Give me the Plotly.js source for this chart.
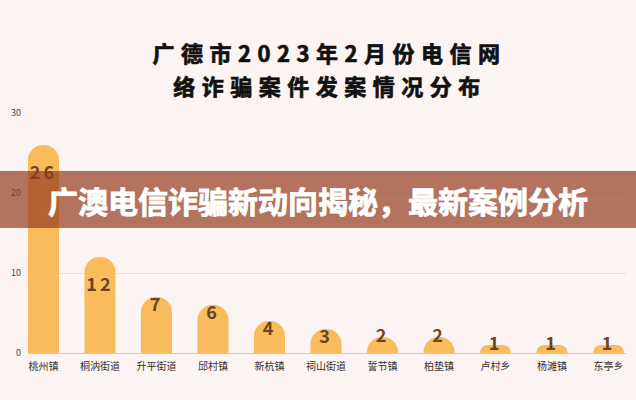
<!DOCTYPE html>
<html>
<head>
<meta charset="utf-8">
<script src="https://cdn.plot.ly/plotly-3.0.1.min.js"></script>
<style>
  html, body { margin: 0; padding: 0; background: #FCF4F2; }
  #chart { width: 636px; height: 400px; }
  g.annotation[data-index="0"] text, g.annotation[data-index="1"] text {
    letter-spacing: 6.5px; stroke: #111111; stroke-width: 0.7px;
  }
  g.annotation[data-index="2"] text { stroke: #FFFFFF; stroke-width: 0.8px; }
  .textpoint text { letter-spacing: 3px; }
</style>
</head>
<body>
<div id="chart"></div>
<script>
const categories = ['桃州镇', '桐汭街道', '升平街道', '邱村镇', '新杭镇', '祠山街道', '誓节镇', '柏垫镇', '卢村乡', '杨滩镇', '东亭乡'];
const cases = [26, 12, 7, 6, 4, 3, 2, 2, 1, 1, 1];
const yTicks = [0, 10, 20, 30];
const titleLine1 = '广德市2023年2月份电信网';
const titleLine2 = '络诈骗案件发案情况分布';
const bannerText = '广澳电信诈骗新动向揭秘，最新案例分析';

const FONT = '"Noto Sans CJK SC", "Noto Sans", sans-serif';

const bars = {
  type: 'bar',
  x: categories,
  y: cases,
  width: 0.55,
  marker: { color: '#FABB5C', cornerradius: '50%', line: { width: 0 } },
  hoverinfo: 'skip',
  showlegend: false
};

// value labels sit a little lower inside the tall bars
const labels = {
  type: 'scatter',
  mode: 'text',
  x: categories,
  y: cases.map(v => v >= 10 ? v - 2.5 : v),
  text: cases.map(String),
  textposition: cases.map(v => v >= 3 ? 'bottom center' : 'middle center'),
  textfont: { family: FONT, size: 18, color: '#6A4520', weight: 'bold' },
  hoverinfo: 'skip',
  showlegend: false,
  cliponaxis: false
};

const layout = {
  width: 636,
  height: 400,
  margin: { l: 28, r: 10, t: 113, b: 47 },
  paper_bgcolor: '#FCF4F2',
  plot_bgcolor: '#FCF4F2',
  font: { family: FONT },
  xaxis: {
    type: 'category',
    range: [-0.274, 10.31],
    showgrid: false,
    showline: false,
    zeroline: false,
    ticks: '',
    ticklabelstandoff: 6,
    tickfont: { family: FONT, size: 10, color: '#333333' },
    fixedrange: true
  },
  yaxis: {
    range: [0, 30],
    tickvals: yTicks,
    ticktext: yTicks.map(String),
    showgrid: true,
    gridcolor: '#E6DEDC',
    gridwidth: 1,
    zeroline: true,
    zerolinecolor: '#CFC9C8',
    zerolinewidth: 1,
    showline: false,
    ticks: '',
    ticklabelstandoff: 6,
    tickfont: { family: FONT, size: 9, color: '#444444' },
    fixedrange: true
  },
  shapes: [{
    type: 'rect',
    xref: 'paper', yref: 'paper',
    x0: -0.06, x1: 1.05,
    y0: 0.521, y1: 0.758,
    fillcolor: 'rgba(149,60,32,0.7)',
    line: { width: 0 },
    layer: 'above'
  }],
  annotations: [
    {
      text: titleLine1, xref: 'paper', yref: 'paper', x: 0.505, y: 1.254,
      xanchor: 'center', yanchor: 'middle', showarrow: false,
      font: { family: FONT, size: 22, color: '#111111', weight: 'bold' }
    },
    {
      text: titleLine2, xref: 'paper', yref: 'paper', x: 0.505, y: 1.117,
      xanchor: 'center', yanchor: 'middle', showarrow: false,
      font: { family: FONT, size: 22, color: '#111111', weight: 'bold' }
    },
    {
      text: bannerText, xref: 'paper', yref: 'paper', x: 0.485, y: 0.6375,
      xanchor: 'center', yanchor: 'middle', showarrow: false,
      font: { family: FONT, size: 30, color: '#FFFFFF', weight: 'bold' }
    }
  ],
  bargap: 0.45,
  showlegend: false
};

Plotly.newPlot('chart', [bars, labels], layout, { displayModeBar: false, staticPlot: true });
</script>
</body>
</html>
